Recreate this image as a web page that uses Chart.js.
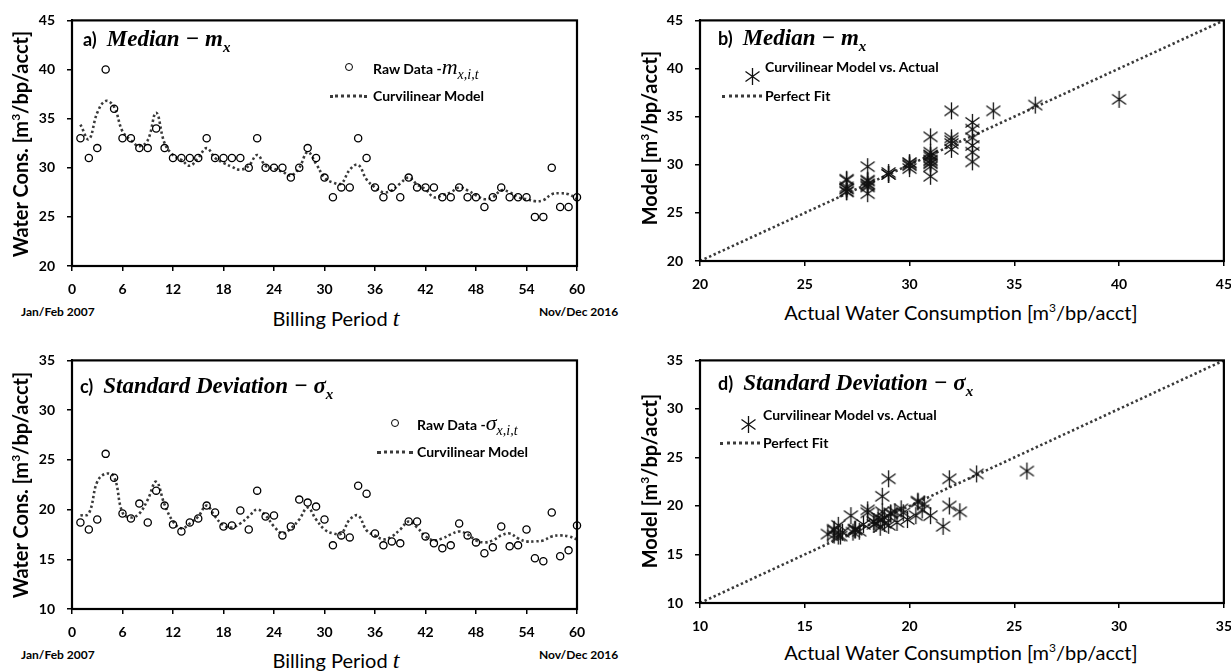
<!DOCTYPE html>
<html>
<head>
<meta charset="utf-8">
<script src="https://cdn.jsdelivr.net/npm/chart.js@4.4.1/dist/chart.umd.min.js"></script>
<style>
  html, body { overflow: hidden; }
  body { margin: 0; width: 1231px; height: 671px; background: #fff; position: relative; font-family: Lato, "Open Sans", sans-serif; }
  canvas { position: absolute; }
  .t { position: absolute; white-space: nowrap; color: #000; line-height: 1; transform: translateY(-50%); }
  .rot { transform: translate(-50%, -50%) rotate(-90deg); }
  .ytitle { font-size: 20px; font-weight: bold; }
  .xtitle { font-size: 20px; transform: translate(-50%, -50%); }
  .sup { font-size: 12px; vertical-align: 8px; }
  .period { font-size: 12px; font-weight: bold; }
  .ttl .lab { font-size: 18px; font-weight: bold; margin-right: 10px; }
  .math { font-family: "Liberation Serif", "DejaVu Serif", serif; font-style: italic; }
  .ttl .math { font-size: 23px; font-weight: bold; }
  .sub { font-size: 15px; position: relative; top: 6px; }
  .leg { font-size: 14px; font-weight: bold; }
  .leg .math { font-size: 22px; font-weight: normal; }
  .leg .sub { font-size: 14px; top: 5px; }
  .circ { position: absolute; width: 6px; height: 6px; border: 1.4px solid #000; border-radius: 50%; transform: translate(-50%, -50%); }
  .dots { position: absolute; height: 0; border-top: 3px dotted #3a3a3a; transform: translateY(-50%); }
  .star { position: absolute; transform: translate(-50%, -50%); line-height: 0; }
</style>
</head>
<body>
<canvas id="chartA" width="600" height="300" style="left:0;top:0"></canvas>
<canvas id="chartB" width="622" height="300" style="left:620px;top:0"></canvas>
<canvas id="chartC" width="600" height="300" style="left:0;top:340px"></canvas>
<canvas id="chartD" width="622" height="300" style="left:620px;top:340px"></canvas>

<!-- panel a -->
<div class="t rot ytitle" style="left:20px;top:144px">Water Cons. [m<span class="sup">3</span>/bp/acct]</div>
<div class="t xtitle" style="left:336px;top:318px">Billing Period <span class="math" style="font-size:24px">t</span></div>
<div class="t period" style="left:21px;top:312px">Jan/Feb 2007</div>
<div class="t period" style="left:539px;top:312px">Nov/Dec 2016</div>
<div class="t ttl" style="left:83px;top:38px"><span class="lab">a)</span><span class="math">Median − m<span class="sub">x</span></span></div>
<div class="circ" style="left:349px;top:67px"></div>
<div class="t leg" style="left:373px;top:67px">Raw Data -<span class="math">m</span><span class="math sub">x,i,t</span></div>
<div class="dots" style="left:330px;top:96px;width:37px"></div>
<div class="t leg" style="left:373px;top:96px">Curvilinear Model</div>

<!-- panel b -->
<div class="t rot ytitle" style="left:649px;top:138px">Model [m<span class="sup">3</span>/bp/acct]</div>
<div class="t xtitle" style="left:961px;top:312px">Actual Water Consumption [m<span class="sup">3</span>/bp/acct]</div>
<div class="t ttl" style="left:718px;top:37px"><span class="lab">b)</span><span class="math">Median − m<span class="sub">x</span></span></div>
<div class="star" id="starB" style="left:744px;top:67px"></div>
<div class="t leg" style="left:765px;top:67px">Curvilinear Model vs. Actual</div>
<div class="dots" style="left:722px;top:96px;width:40px"></div>
<div class="t leg" style="left:765px;top:96px">Perfect Fit</div>

<!-- panel c -->
<div class="t rot ytitle" style="left:20px;top:485px">Water Cons. [m<span class="sup">3</span>/bp/acct]</div>
<div class="t xtitle" style="left:336px;top:660px">Billing Period <span class="math" style="font-size:24px">t</span></div>
<div class="t period" style="left:21px;top:655px">Jan/Feb 2007</div>
<div class="t period" style="left:539px;top:655px">Nov/Dec 2016</div>
<div class="t ttl" style="left:80px;top:385px"><span class="lab">c)</span><span class="math">Standard Deviation − σ<span class="sub">x</span></span></div>
<div class="circ" style="left:395px;top:423px"></div>
<div class="t leg" style="left:417px;top:423px">Raw Data -<span class="math">σ</span><span class="math sub">x,i,t</span></div>
<div class="dots" style="left:377px;top:452px;width:36px"></div>
<div class="t leg" style="left:417px;top:452px">Curvilinear Model</div>

<!-- panel d -->
<div class="t rot ytitle" style="left:649px;top:481px">Model [m<span class="sup">3</span>/bp/acct]</div>
<div class="t xtitle" style="left:961px;top:652px">Actual Water Consumption [m<span class="sup">3</span>/bp/acct]</div>
<div class="t ttl" style="left:718px;top:382px"><span class="lab">d)</span><span class="math">Standard Deviation − σ<span class="sub">x</span></span></div>
<div class="star" id="starD" style="left:740px;top:415px"></div>
<div class="t leg" style="left:763px;top:415px">Curvilinear Model vs. Actual</div>
<div class="dots" style="left:720px;top:443px;width:40px"></div>
<div class="t leg" style="left:763px;top:443px">Perfect Fit</div>

<script>
// billing periods 1..60 (Jan/Feb 2007 .. Nov/Dec 2016)
const periods = [1, 2, 3, 4, 5, 6, 7, 8, 9, 10, 11, 12, 13, 14, 15, 16, 17, 18, 19, 20,
  21, 22, 23, 24, 25, 26, 27, 28, 29, 30, 31, 32, 33, 34, 35, 36, 37, 38, 39, 40,
  41, 42, 43, 44, 45, 46, 47, 48, 49, 50, 51, 52, 53, 54, 55, 56, 57, 58, 59, 60];
// the model-vs-actual panels only show the fitted periods
const fitPeriods = 48;

// median, raw data and curvilinear model
const rawMedian = [33, 31, 32, 40, 36, 33, 33, 32, 32, 34, 32, 31, 31, 31, 31, 33, 31, 31, 31, 31,
  30, 33, 30, 30, 30, 29, 30, 32, 31, 29, 27, 28, 28, 33, 31, 28, 27, 28, 27, 29,
  28, 28, 28, 27, 27, 28, 27, 27, 26, 27, 28, 27, 27, 27, 25, 25, 30, 26, 26, 27];
const modelMedian = [34.4, 32.9, 35.6, 36.8, 36.2, 33.7, 32.8, 32.2, 32.8, 35.6, 32.5, 31.3, 30.8, 30.2, 31.0, 32.0, 31.0, 30.5, 30.1, 29.8,
  30.2, 31.3, 30.2, 29.9, 29.6, 29.2, 30.0, 31.6, 30.4, 29.0, 28.5, 28.4, 29.8, 30.3, 28.8, 28.0, 27.5, 27.7, 28.4, 29.0,
  28.3, 27.8, 27.0, 27.2, 27.5, 28.0, 27.7, 27.2, 26.8, 27.0, 27.7, 27.5, 27.0, 26.8, 26.6, 26.7, 27.3, 27.4, 27.3, 26.8];

// standard deviation, raw data and curvilinear model
const rawSigma = [18.7, 18.0, 19.0, 25.6, 23.2, 19.6, 19.1, 20.6, 18.7, 21.9, 20.4, 18.5, 17.8, 18.7, 19.1, 20.4, 19.7, 18.3, 18.4, 19.9,
  18.0, 21.9, 19.3, 19.4, 17.4, 18.3, 21.0, 20.7, 20.3, 19.0, 16.4, 17.4, 17.2, 22.4, 21.6, 17.6, 16.4, 16.8, 16.6, 18.8,
  18.8, 17.3, 16.6, 16.1, 16.4, 18.6, 17.4, 16.7, 15.6, 16.2, 18.3, 16.3, 16.4, 18.0, 15.1, 14.8, 19.7, 15.3, 15.9, 18.4];
const modelSigma = [19.4, 19.6, 22.8, 23.6, 23.3, 19.7, 19.2, 19.6, 21.0, 22.8, 20.5, 18.8, 18.1, 18.6, 19.3, 20.4, 19.3, 18.4, 18.2, 18.6,
  19.3, 20.0, 19.4, 18.3, 17.6, 18.1, 19.0, 20.2, 19.0, 18.0, 17.6, 17.6, 19.0, 19.4, 17.9, 17.4, 17.0, 17.3, 18.0, 18.8,
  18.2, 17.3, 16.9, 17.1, 17.5, 17.8, 17.5, 16.9, 16.7, 16.9, 17.4, 17.6, 17.1, 16.8, 16.8, 16.9, 17.3, 17.4, 17.3, 17.0];

// axis ranges [min, max, step]
const periodAxis = [0, 60, 6];
const medianAxis = [20, 45, 5];
const sigmaAxis = [10, 35, 5];

const tickFont = { family: 'Lato', weight: 'bold', size: 14 };
const dotColor = '#3a3a3a';

// Excel style star marker: an X with a vertical bar
function makeStar() {
  const c = document.createElement('canvas');
  c.width = 17; c.height = 19;
  const g = c.getContext('2d');
  g.strokeStyle = '#111';
  g.lineWidth = 1.3;
  g.beginPath();
  g.moveTo(8.5, 1); g.lineTo(8.5, 18);
  g.moveTo(1.5, 4.5); g.lineTo(15.5, 14.5);
  g.moveTo(1.5, 14.5); g.lineTo(15.5, 4.5);
  g.stroke();
  return c;
}
const star = makeStar();
document.getElementById('starB').appendChild(makeStar());
document.getElementById('starD').appendChild(makeStar());

// thick box around the plot area
const frame = {
  id: 'frame',
  afterDraw(chart) {
    const { ctx, chartArea: a } = chart;
    ctx.save();
    ctx.strokeStyle = '#000';
    ctx.lineWidth = 2.2;
    ctx.strokeRect(a.left, a.top, a.right - a.left, a.bottom - a.top);
    ctx.restore();
  }
};

function axis(range, fit, pad) {
  return {
    type: 'linear', min: range[0], max: range[1],
    afterFit: fit,
    ticks: { stepSize: range[2], color: '#000', font: tickFont, padding: pad },
    grid: { drawOnChartArea: false, drawTicks: true, tickLength: 5, color: '#000', lineWidth: 1.5 },
    border: { display: true, color: '#000', width: 2 }
  };
}

function makeChart(id, datasets, xRange, yRange, box) {
  return new Chart(document.getElementById(id), {
    type: 'scatter',
    data: { datasets: datasets },
    options: {
      responsive: false,
      animation: false,
      layout: { padding: { top: box.top, right: box.right, left: 0, bottom: 0 } },
      plugins: { legend: { display: false }, tooltip: { enabled: false } },
      scales: {
        x: axis(xRange, s => { s.height = box.xh; }, 10),
        y: axis(yRange, s => { s.width = box.yw; }, 12)
      }
    },
    plugins: [frame]
  });
}

function timeSeries(raw, model) {
  return [
    {
      data: periods.map((t, i) => ({ x: t, y: raw[i] })),
      pointStyle: 'circle', pointRadius: 3.6, borderWidth: 1.3,
      borderColor: '#000', backgroundColor: 'rgba(255,255,255,0)',
      clip: 8
    },
    {
      data: periods.map((t, i) => ({ x: t, y: model[i] })),
      showLine: true, pointRadius: 0, tension: 0.4,
      borderColor: dotColor, borderWidth: 2.6, borderDash: [2.4, 2.6]
    }
  ];
}

function fitScatter(raw, model, range) {
  return [
    {
      data: raw.slice(0, fitPeriods).map((v, i) => ({ x: v, y: model[i] })),
      pointStyle: star, borderColor: '#111'
    },
    {
      data: [{ x: range[0], y: range[0] }, { x: range[1], y: range[1] }],
      showLine: true, pointRadius: 0,
      borderColor: dotColor, borderWidth: 2.6, borderDash: [2.4, 2.6]
    }
  ];
}

makeChart('chartA', timeSeries(rawMedian, modelMedian), periodAxis, medianAxis,
  { top: 16, right: 23, xh: 34, yw: 72 });
makeChart('chartB', fitScatter(rawMedian, modelMedian, medianAxis), medianAxis, medianAxis,
  { top: 15, right: 18, xh: 39, yw: 80 });
makeChart('chartC', timeSeries(rawSigma, modelSigma), periodAxis, sigmaAxis,
  { top: 19, right: 23, xh: 31, yw: 72 });
makeChart('chartD', fitScatter(rawSigma, modelSigma, sigmaAxis), sigmaAxis, sigmaAxis,
  { top: 18, right: 18, xh: 37, yw: 80 });
</script>
</body>
</html>
